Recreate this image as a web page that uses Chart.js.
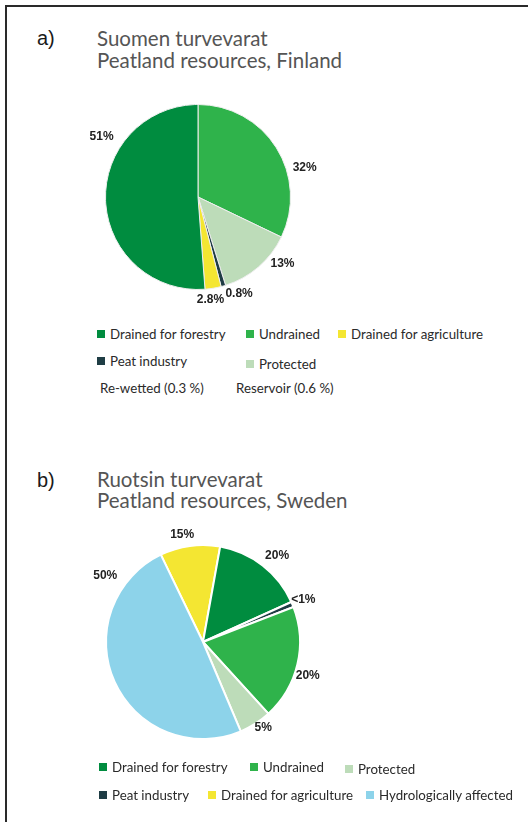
<!DOCTYPE html>
<html>
<head>
<meta charset="utf-8">
<script src="https://cdn.jsdelivr.net/npm/chart.js@4.4.1/dist/chart.umd.min.js"></script>
<style>
  body { margin: 0; background: #fff; width: 528px; height: 822px; position: relative; overflow: hidden; }
  .frame { position: absolute; left: 5px; top: 5px; right: 0; bottom: 0; border-top: 2px solid #2a2a2a; border-left: 2px solid #2a2a2a; }
  .t { position: absolute; white-space: nowrap; line-height: 20px; }
  .letter { font-family: "Liberation Sans", Arial, sans-serif; font-size: 20px; color: #1a1a1a; }
  .title { font-family: Lato, sans-serif; font-size: 20.5px; color: #555; }
  .leg { font-family: Lato, sans-serif; font-size: 13.3px; color: #2a2a2a; }
  .sq { display: inline-block; width: 8px; height: 8px; margin-right: 5px; vertical-align: 1px; }
  .box { position: absolute; }
</style>
</head>
<body>
<div class="frame"></div>

<div class="t letter" style="left:37px; top:28px;">a)</div>
<div class="t title" style="left:97px; top:28px;">Suomen turvevarat</div>
<div class="t title" style="left:97px; top:50px;">Peatland resources, Finland</div>
<div class="box" style="left:48px; top:77px; width:300px; height:240px;"><canvas id="finChart"></canvas></div>
<div id="finLegend"></div>
<div class="t leg" style="left:100px; top:378px;">Re-wetted (0.3 %)</div>
<div class="t leg" style="left:236px; top:378px;">Reservoir (0.6 %)</div>

<div class="t letter" style="left:37px; top:470px;">b)</div>
<div class="t title" style="left:97px; top:469px;">Ruotsin turvevarat</div>
<div class="t title" style="left:97px; top:490px;">Peatland resources, Sweden</div>
<div class="box" style="left:53px; top:512px; width:300px; height:260px;"><canvas id="sweChart"></canvas></div>
<div id="sweLegend"></div>

<script>
// Finland, clockwise from 12 o'clock
var finCategories = ['Undrained', 'Protected', 'Peat industry', 'Drained for agriculture', 'Drained for forestry'];
var finValues = [32, 13, 0.8, 2.8, 51];
var finLabels = ['32%', '13%', '0.8%', '2.8%', '51%'];

// Sweden, clockwise starting from the yellow slice
// slice sizes (printed labels do not add up to 100)
var sweCategories = ['Drained for agriculture', 'Drained for forestry', 'Peat industry', 'Undrained', 'Protected', 'Hydrologically affected'];
var sweValues = [10, 15.4, 0.9, 19.1, 5.4, 49.2];
var sweLabels = ['15%', '20%', '<1%', '20%', '5%', '50%'];

var colors = {
    'Drained for forestry': '#008c3f',
    'Undrained': '#2fb34b',
    'Drained for agriculture': '#f4e632',
    'Peat industry': '#1f3d45',
    'Protected': '#bddcb9',
    'Hydrologically affected': '#8dd3ea'
};

// percent labels placed just outside each slice
var outsideLabels = {
    id: 'outsideLabels',
    afterDatasetsDraw: function(chart, args, opts) {
        var ctx = chart.ctx;
        var arcs = chart.getDatasetMeta(0).data;
        ctx.save();
        ctx.font = 'bold 12px "Liberation Sans", Arial, sans-serif';
        ctx.fillStyle = '#222';
        ctx.textAlign = 'center';
        ctx.textBaseline = 'middle';
        arcs.forEach(function(arc, i) {
            var p = arc.getProps(['startAngle', 'endAngle', 'outerRadius', 'x', 'y'], true);
            var a = (p.startAngle + p.endAngle) / 2 + opts.nudge[i] * Math.PI / 180;
            var r = p.outerRadius + opts.gap[i];
            ctx.fillText(opts.text[i], p.x + Math.cos(a) * r, p.y + Math.sin(a) * r);
        });
        ctx.restore();
    }
};

function makePie(id, cats, vals, texts, rotation, border, padding, nudge, gap) {
    return new Chart(document.getElementById(id).getContext('2d'), {
        type: 'pie',
        data: {
            labels: cats,
            datasets: [{
                data: vals,
                backgroundColor: cats.map(function(c) { return colors[c]; }),
                borderColor: border.color,
                borderWidth: border.width
            }]
        },
        options: {
            responsive: true,
            maintainAspectRatio: false,
            animation: false,
            rotation: rotation,
            events: [],
            layout: { padding: padding },
            plugins: {
                legend: { display: false },
                tooltip: { enabled: false },
                outsideLabels: { text: texts, nudge: nudge, gap: gap }
            }
        },
        plugins: [outsideLabels]
    });
}

makePie('finChart', finCategories, finValues, finLabels, 0,
    { color: '#eeeeee', width: 1 },
    { top: 27, bottom: 27, left: 57, right: 57 },
    [17, -11, -7, 2.5, 34],
    [18, 15, 13, 11, 21]);

makePie('sweChart', sweCategories, sweValues, sweLabels, -25.8,
    { color: '#ffffff', width: 2 },
    { top: 32, bottom: 32, left: 52, right: 52 },
    [-3.2, 2.6, -0.3, 4.5, -2.4, 58.4],
    [12, 17, 12, 13, 8, 21]);

// html legends, laid out as in the original figure
function legend(el, items) {
    items.forEach(function(it) {
        var d = document.createElement('div');
        d.className = 't leg';
        d.style.left = it[1] + 'px';
        d.style.top = it[2] + 'px';
        d.innerHTML = '<span class="sq" style="background:' + colors[it[0]] + '"></span>' + it[0];
        el.appendChild(d);
    });
}

legend(document.getElementById('finLegend'), [
    ['Drained for forestry', 97, 324],
    ['Undrained', 246, 324],
    ['Drained for agriculture', 338, 324],
    ['Peat industry', 97, 351],
    ['Protected', 246, 354]
]);

legend(document.getElementById('sweLegend'), [
    ['Drained for forestry', 99, 757],
    ['Undrained', 250, 757],
    ['Protected', 345, 759],
    ['Peat industry', 99, 785],
    ['Drained for agriculture', 208, 785],
    ['Hydrologically affected', 366, 785]
]);
</script>
</body>
</html>
